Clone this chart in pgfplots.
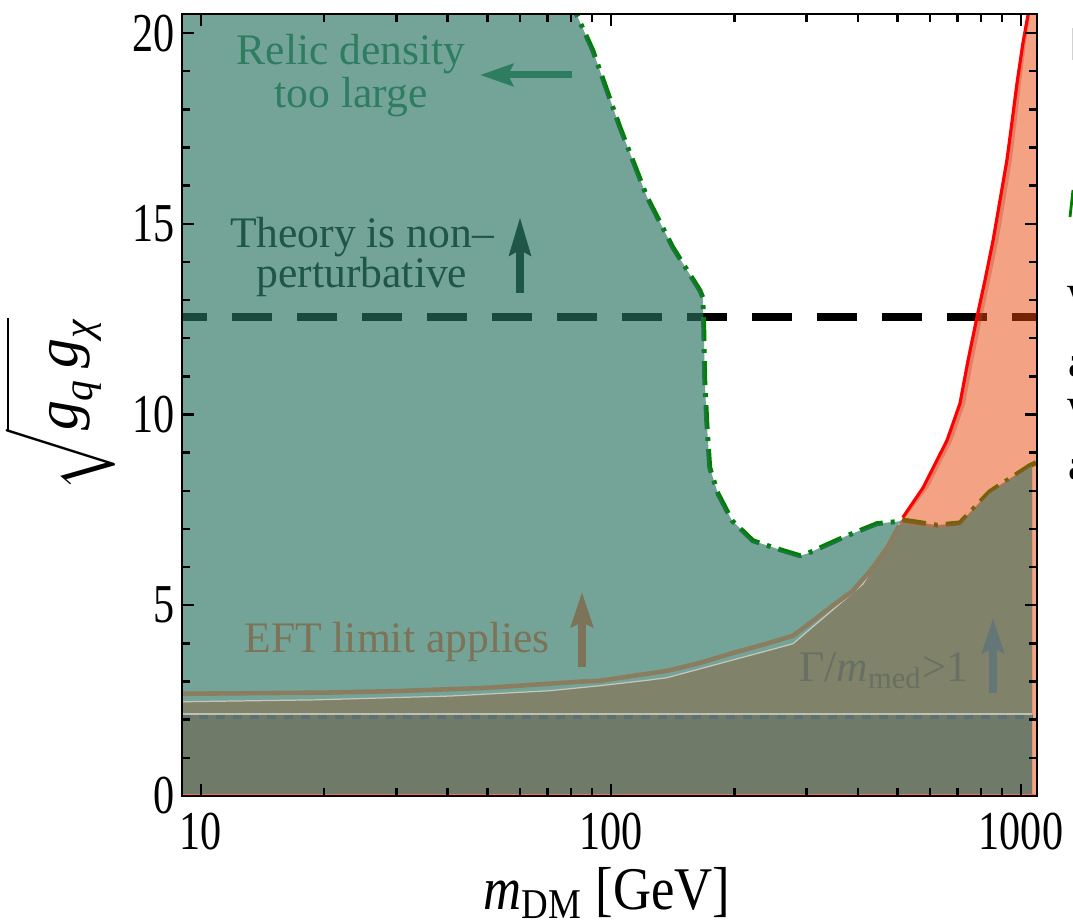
\documentclass[border=0pt]{standalone}
\usepackage{amsmath}
\usepackage{fontspec}
\setmainfont{Liberation Serif}
\usepackage{graphicx}
\usepackage{pgfplots}
\pgfplotsset{compat=1.18}
\usetikzlibrary{arrows.meta}

\definecolor{tealC}{RGB}{42,114,95}
\definecolor{orangeC}{RGB}{233,70,10}
\definecolor{bandC}{RGB}{200,60,40}
\definecolor{oliveL}{RGB}{128,131,106}
\definecolor{oliveD}{RGB}{111,122,104}
\definecolor{eftC}{RGB}{138,125,96}
\definecolor{grayD}{RGB}{94,113,113}
\definecolor{relicG}{RGB}{0,128,0}
\definecolor{relicT}{RGB}{46,125,97}
\definecolor{theoT}{RGB}{30,86,72}
\definecolor{eftT}{RGB}{124,115,88}
\definecolor{gamT}{RGB}{104,112,100}
\definecolor{gamA}{RGB}{100,118,118}

\newcommand{\tl}[1]{\scalebox{1}[1.3]{\rmfamily #1}}

\begin{document}
\begin{tikzpicture}[x=1cm,y=1cm]
\begin{axis}[
  at={(1.82cm,1.28cm)}, anchor=south west,
  scale only axis, width=8.55cm, height=7.82cm,
  xmode=log, xmin=9, xmax=1094, ymin=0, ymax=20.5,
  xtick={10,100,1000}, xticklabels={\tl{10},\tl{100},\tl{1000}},
  minor xtick={20,30,40,50,60,70,80,90,200,300,400,500,600,700,800,900},
  ytick={0,5,10,15,20}, yticklabels={\tl{0},\tl{5},\tl{10},\tl{15},\tl{20}},
  minor ytick={1,2,3,4,6,7,8,9,11,12,13,14,16,17,18,19},
  major tick length=0.12cm, minor tick length=0.08cm,
  tick style={black, line width=0.7pt},
  axis line style={line width=0.8pt},
  xticklabel style={font=\rmfamily\fontsize{12}{14}\selectfont, inner sep=0pt, anchor=north, yshift=-0.16cm},
  yticklabel style={font=\rmfamily\fontsize{12}{14}\selectfont, inner sep=0pt, anchor=east, xshift=-0.07cm},
  axis on top,
]
% perturbativity limit
\addplot[black, line width=2.4pt, dash pattern=on 0.40cm off 0.25cm, dash phase=0.15cm]
  coordinates {(9,12.55) (1094,12.55)};
% relic density line
\addplot[relicG, line width=1.4pt, dash pattern=on 0.24cm off 0.08cm on 0.04cm off 0.08cm]
  coordinates {(78.5,21) (82.6,20.47) (90.3,19.55) (105.2,17.53) (122.5,15.7) (141.6,14.38)
   (164.9,13.25) (167.5,13.07) (168.5,12.2) (169.4,10.89) (171.4,9.76) (174.2,8.61)
   (182.4,7.93) (197.4,7.22) (222,6.69) (258,6.46) (289,6.30) (300.6,6.35) (376,6.82)
   (445.7,7.14) (505,7.2) (512,7.24) (623,7.1) (710,7.16) (840,7.98) (1051,8.66) (1094,8.75)};
% relic density too large region
\addplot[draw=none, fill=tealC, fill opacity=0.65]
  coordinates {(9,21) (78.5,21) (82.6,20.47) (90.3,19.55) (105.2,17.53) (122.5,15.7) (141.6,14.38)
   (164.9,13.25) (167.5,13.07) (168.5,12.2) (169.4,10.89) (171.4,9.76) (174.2,8.61)
   (182.4,7.93) (197.4,7.22) (222,6.69) (258,6.46) (289,6.30) (300.6,6.35) (376,6.82)
   (445.7,7.14) (505,7.2) (512,7.24) (623,7.1) (710,7.16) (840,7.98) (1051,8.66) (1064,8.68)}
  \closedcycle;
% red region
\addplot[draw=none, fill=orangeC, fill opacity=0.5]
  coordinates {(505,7.14) (515,7.30) (577,8.08) (660,9.32) (710,10.29) (743,11.42) (781,12.55)
   (817,13.52) (855,14.57) (889,15.62) (924,16.67) (950,17.64) (978,18.69) (1011,19.74)
   (1040,20.47) (1048,21) (1094,21)}
  \closedcycle;
\addplot[draw=none, fill=bandC, fill opacity=0.35]
  coordinates {(515,7.30) (577,8.08) (660,9.32) (710,10.29) (743,11.42) (781,12.55)
   (817,13.52) (855,14.57) (889,15.62) (924,16.67) (950,17.64) (978,18.69) (1011,19.74)
   (1040,20.47) (1048,21) (1058,21) (1052,20.47) (1028,19.74) (1000,18.69) (975,17.64)
   (950,16.67) (916,15.62) (881,14.57) (841,13.52) (804,12.55) (765,11.42) (731,10.29)
   (680,9.32) (594,8.08) (522,7.30)} -- cycle;
\addplot[red, line width=0.9pt]
  coordinates {(515,7.30) (577,8.08) (660,9.32) (710,10.29) (743,11.42) (781,12.55)
   (817,13.52) (855,14.57) (889,15.62) (924,16.67) (950,17.64) (978,18.69) (1011,19.74)
   (1040,20.47) (1048,21)};
% width region
\addplot[draw=none, fill=oliveL]
  coordinates {(9,2.47) (19,2.52) (40.5,2.62) (71,2.76) (94,2.89) (124,3.04) (137,3.1)
   (278,3.99) (412,5.56) (505,7.14) (623,7.03) (710,7.09) (840,7.93) (1051,8.61) (1064,8.65)}
  \closedcycle;
\addplot[white!55!oliveL, line width=0.35pt]
  coordinates {(9,2.47) (19,2.52) (40.5,2.62) (71,2.76) (94,2.89) (124,3.04) (137,3.1)
   (278,3.99) (412,5.56) (505,7.14)};
\addplot[draw=none, fill=oliveD]
  coordinates {(9,2.15) (1064,2.15)} \closedcycle;
\addplot[white!50!oliveL, line width=0.35pt] coordinates {(9,2.15) (1064,2.15)};
\addplot[grayD, line width=1.1pt, dash pattern=on 0.09cm off 0.08cm] coordinates {(9,2.07) (1064,2.07)};
% EFT line
\addplot[eftC, line width=1.3pt]
  coordinates {(9,2.68) (20,2.71) (30,2.75) (48.7,2.83) (85,3.0) (94,3.02) (113.3,3.15)
   (137,3.28) (165,3.49) (198.5,3.75) (239.5,3.99) (278,4.2) (311,4.59) (347.6,4.99)
   (389,5.38) (435,5.98) (471,6.51) (505,7.09)};
% bottom edge
\addplot[red!60!white, line width=1.2pt] coordinates {(9,0) (1094,0)};
\end{axis}

% annotations (1 px = 0.01 cm, y measured from bottom)
\begin{scope}[every node/.style={inner sep=0pt, font=\rmfamily\fontsize{12.4}{14}\selectfont}]
\node[anchor=base, text=relicT, align=center, font=\rmfamily\fontsize{12.4}{10.3}\selectfont] at (3.51,9.24-1.08) {Relic density\\too large};
\draw[relicT, line width=2pt, -{Stealth[length=0.33cm, width=0.22cm, inset=0.05cm]}] (5.72,9.24-0.75) -- (4.80,9.24-0.75);
\node[anchor=base, text=theoT, align=center, font=\rmfamily\fontsize{12.4}{11.4}\selectfont] at (3.62,9.24-2.88) {Theory is non–\\perturbative};
\draw[theoT, line width=2.2pt, -{Stealth[length=0.38cm, width=0.21cm, inset=0.05cm]}] (5.20,9.24-2.93) -- (5.20,9.24-2.17);
\node[anchor=base, text=eftT] at (3.97,9.24-6.53) {EFT limit applies};
\draw[eftT, line width=2pt, -{Stealth[length=0.35cm, width=0.22cm, inset=0.05cm]}] (5.82,9.24-6.67) -- (5.82,9.24-5.92);
\node[anchor=base, text=gamT] at (8.84,9.24-6.82) {Γ/\textit{m}\textsubscript{med}>1};
\draw[gamA, line width=2pt, -{Stealth[length=0.35cm, width=0.22cm, inset=0.05cm]}] (9.93,9.24-6.93) -- (9.93,9.24-6.18);
% axis labels
\node[anchor=base, font=\rmfamily\fontsize{15}{17}\selectfont] at (6.07,9.24-9.10) {\scalebox{1}[1.15]{\textit{m}\textsubscript{DM} [GeV]}};
\node[rotate=90, font=\rmfamily\fontsize{17}{19}\selectfont] at (0.60,9.24-4.05) {$\sqrt{\vphantom{\big(}\textit{g}_{\textit{q}}\,\textit{g}_{\textit{χ}}}$};
% cropped neighbouring text at right edge
\node[anchor=base west, font=\rmfamily\fontsize{12.5}{14}\selectfont] at (10.67,9.24-3.07) {w};
\node[anchor=base west, font=\rmfamily\fontsize{12.5}{14}\selectfont] at (10.68,9.24-3.77) {a};
\node[anchor=base west, font=\rmfamily\fontsize{12.5}{14}\selectfont] at (10.67,9.24-4.20) {w};
\node[anchor=base west, font=\rmfamily\fontsize{12.5}{14}\selectfont] at (10.68,9.24-4.80) {a};
\fill[gray!35] (10.715,9.24-0.28) rectangle (10.73,9.24-0.60);
\draw[relicG, line width=0.8pt] (10.70,9.24-2.17) -- (10.73,9.24-1.90);
\end{scope}
\pgfresetboundingbox
\useasboundingbox (0,0) rectangle (10.73,9.24);
\end{tikzpicture}
\end{document}
